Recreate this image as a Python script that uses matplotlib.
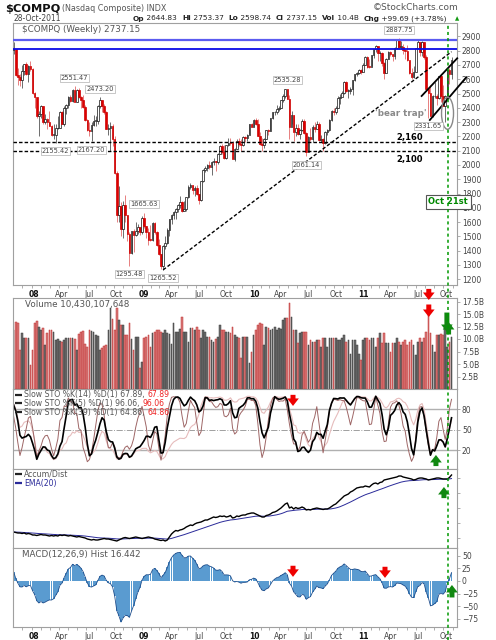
import numpy as np
import pandas as pd
import matplotlib
matplotlib.use("Agg")
import matplotlib.pyplot as plt
import matplotlib.transforms as mtransforms
from matplotlib.lines import Line2D
from matplotlib.patches import Ellipse

plt.rcParams["font.family"] = ["DejaVu Sans"]

start = "2007-11-02"

# Jan-Oct 2007 weeks: only feed the STO / MACD warm-up, they sit left of the chart
pre_close = [2434, 2502, 2451, 2435, 2475, 2459, 2497, 2515, 2368, 2388, 2372, 2448, 2422,
             2471, 2491, 2526, 2557, 2572, 2562, 2558, 2557, 2613, 2573, 2626, 2589, 2603,
             2666, 2707, 2688, 2562, 2511, 2544, 2505, 2576, 2596, 2566, 2602, 2671, 2701,
             2780, 2805, 2725, 2804]
pre_high = [2460, 2510, 2510, 2470, 2480, 2490, 2500, 2530, 2520, 2400, 2400, 2455, 2455,
            2475, 2500, 2530, 2560, 2580, 2580, 2580, 2580, 2620, 2635, 2630, 2640, 2610,
            2670, 2725, 2725, 2700, 2590, 2560, 2560, 2580, 2610, 2620, 2620, 2680, 2710,
            2790, 2830, 2810, 2810]
pre_low = [2410, 2430, 2440, 2420, 2420, 2450, 2450, 2480, 2330, 2340, 2340, 2370, 2410,
           2410, 2450, 2480, 2510, 2550, 2540, 2530, 2520, 2550, 2530, 2560, 2570, 2560,
           2600, 2660, 2680, 2560, 2480, 2470, 2390, 2500, 2540, 2550, 2560, 2600, 2660,
           2690, 2760, 2710, 2720]

# weekly bars, Nov 2 2007 .. Oct 28 2011
close = [2810, 2627, 2618, 2596, 2661, 2709, 2635, 2691, 2674, 2504,
         2474, 2340, 2360, 2414, 2304, 2321, 2303, 2271, 2212, 2212,
         2258, 2261, 2370, 2290, 2402, 2422, 2476, 2445, 2528, 2444,
         2522, 2474, 2454, 2406, 2316, 2245, 2239, 2282, 2310, 2310,
         2414, 2453, 2414, 2368, 2255, 2261, 2273, 2183, 1947, 1649,
         1711, 1552, 1721, 1647, 1516, 1384, 1536, 1509, 1540, 1564,
         1530, 1632, 1571, 1530, 1477, 1476, 1591, 1534, 1441, 1377,
         1293, 1431, 1457, 1545, 1622, 1652, 1673, 1694, 1719, 1739,
         1680, 1692, 1774, 1849, 1858, 1827, 1838, 1796, 1756, 1886,
         1965, 1979, 2000, 1985, 2020, 2028, 2018, 2080, 2132, 2090,
         2048, 2139, 2156, 2154, 2045, 2112, 2167, 2146, 2138, 2194,
         2190, 2212, 2285, 2269, 2317, 2287, 2206, 2147, 2141, 2183,
         2243, 2238, 2327, 2368, 2374, 2395, 2402, 2454, 2481, 2530,
         2461, 2265, 2347, 2229, 2257, 2219, 2243, 2309, 2223, 2091,
         2196, 2179, 2269, 2255, 2289, 2173, 2180, 2154, 2234, 2242,
         2315, 2381, 2370, 2402, 2469, 2479, 2507, 2578, 2518, 2518,
         2535, 2592, 2637, 2642, 2665, 2653, 2703, 2755, 2689, 2686,
         2769, 2809, 2834, 2781, 2784, 2715, 2643, 2743, 2789, 2780,
         2764, 2820, 2873, 2827, 2828, 2803, 2796, 2733, 2643, 2616,
         2652, 2816, 2860, 2789, 2859, 2756, 2532, 2507, 2342, 2480,
         2480, 2467, 2622, 2483, 2415, 2480, 2667, 2637, 2737.15]
high = [2861, 2800, 2680, 2640, 2700, 2710, 2720, 2700, 2725, 2680,
        2510, 2470, 2380, 2420, 2410, 2360, 2330, 2380, 2280, 2290,
        2290, 2340, 2375, 2380, 2410, 2430, 2480, 2490, 2534, 2551.47,
        2530, 2540, 2480, 2490, 2420, 2320, 2300, 2300, 2350, 2340,
        2420, 2473.20, 2455, 2430, 2380, 2290, 2300, 2290, 2200, 1960,
        1850, 1740, 1750, 1790, 1650, 1530, 1540, 1550, 1600, 1590,
        1560, 1640, 1665.63, 1570, 1560, 1580, 1600, 1600, 1540, 1480,
        1380, 1440, 1500, 1560, 1625, 1655, 1680, 1700, 1730, 1780,
        1745, 1750, 1776, 1860, 1875, 1860, 1850, 1860, 1800, 1890,
        1970, 1995, 2010, 2030, 2025, 2050, 2030, 2085, 2140, 2150,
        2140, 2140, 2190, 2190, 2170, 2120, 2180, 2190, 2180, 2200,
        2200, 2215, 2290, 2295, 2320, 2326, 2320, 2230, 2190, 2190,
        2245, 2250, 2330, 2370, 2380, 2420, 2410, 2455, 2500, 2532,
        2535.28, 2490, 2380, 2350, 2290, 2290, 2250, 2320, 2320, 2230,
        2200, 2260, 2280, 2300, 2310, 2300, 2210, 2190, 2240, 2250,
        2320, 2385, 2400, 2410, 2480, 2495, 2520, 2590, 2590, 2530,
        2545, 2595, 2640, 2650, 2670, 2670, 2715, 2760, 2765, 2740,
        2770, 2810, 2840, 2820, 2800, 2790, 2720, 2750, 2800, 2800,
        2780, 2825, 2875, 2887.75, 2865, 2845, 2810, 2840, 2730, 2680,
        2690, 2820, 2880, 2840, 2865, 2860, 2770, 2540, 2560, 2490,
        2580, 2500, 2625, 2630, 2560, 2490, 2670, 2680, 2753.37]
low = [2780, 2620, 2560, 2555, 2540, 2630, 2630, 2580, 2660, 2500,
       2400, 2330, 2200, 2330, 2290, 2290, 2250, 2270, 2200, 2180,
       2155.42, 2250, 2260, 2285, 2270, 2360, 2400, 2440, 2440, 2440,
       2440, 2470, 2400, 2400, 2310, 2240, 2200, 2167.20, 2270, 2270,
       2290, 2400, 2370, 2360, 2250, 2210, 2100, 2130, 1940, 1600,
       1600, 1500, 1490, 1600, 1470, 1295.48, 1380, 1390, 1500, 1520,
       1510, 1520, 1560, 1490, 1440, 1470, 1470, 1520, 1430, 1370,
       1275, 1265.52, 1410, 1450, 1500, 1590, 1620, 1620, 1670, 1700,
       1670, 1680, 1680, 1770, 1830, 1800, 1780, 1790, 1730, 1750,
       1880, 1950, 1960, 1970, 1930, 2000, 1960, 2010, 2080, 2080,
       2040, 2040, 2130, 2140, 2040, 2030, 2110, 2130, 2100, 2130,
       2160, 2170, 2220, 2265, 2270, 2280, 2200, 2140, 2100, 2120,
       2180, 2210, 2240, 2320, 2350, 2360, 2380, 2400, 2440, 2470,
       2460, 2180, 2290, 2170, 2200, 2210, 2180, 2240, 2220, 2061.14,
       2090, 2170, 2160, 2230, 2250, 2170, 2160, 2100, 2150, 2210,
       2240, 2310, 2350, 2360, 2400, 2430, 2480, 2500, 2510, 2470,
       2500, 2490, 2590, 2620, 2640, 2640, 2660, 2700, 2680, 2680,
       2690, 2750, 2790, 2730, 2730, 2690, 2600, 2650, 2740, 2760,
       2730, 2740, 2810, 2810, 2815, 2780, 2740, 2730, 2640, 2600,
       2610, 2660, 2810, 2760, 2760, 2740, 2520, 2331.65, 2340, 2335,
       2470, 2420, 2460, 2440, 2410, 2300, 2480, 2570, 2598.74]
volume = [11.8, 13.5, 13.2, 7.8, 11.2, 10.2, 10.2, 10.3, 4.8, 7.8,
          13.2, 13.6, 12.5, 11.8, 12.2, 8.8, 11.2, 11.8, 11.8, 11.5,
          9.8, 10.0, 9.6, 9.5, 9.8, 10.2, 10.2, 10.3, 10.2, 10.1,
          7.8, 11.0, 11.5, 11.6, 9.0, 8.5, 11.8, 11.6, 11.5, 10.8,
          10.6, 7.8, 8.2, 8.6, 8.8, 11.8, 16.2, 14.0, 11.8, 16.2,
          13.8, 12.8, 12.8, 10.8, 10.8, 13.2, 10.0, 7.8, 10.5, 10.5,
          4.2, 5.5, 10.2, 10.5, 10.8, 8.5, 11.2, 11.5, 11.8, 11.8,
          11.5, 11.2, 11.8, 11.2, 11.0, 9.0, 13.2, 11.5, 11.5, 12.0,
          14.5, 11.5, 11.5, 9.5, 12.2, 12.2, 11.8, 12.5, 11.8, 10.2,
          11.8, 11.5, 10.5, 10.5, 9.8, 9.5, 10.0, 10.5, 12.8, 11.8,
          11.8, 11.5, 11.5, 11.2, 12.5, 10.8, 10.5, 10.2, 6.2, 10.5,
          10.5, 10.5, 5.2, 7.5, 10.8, 11.8, 12.8, 13.2, 13.0, 8.8,
          12.5, 12.2, 11.8, 12.0, 12.5, 11.8, 12.2, 12.0, 13.8, 14.2,
          14.2, 17.2, 14.5, 11.8, 11.8, 9.2, 11.2, 11.5, 11.5, 11.5,
          8.8, 9.8, 9.5, 9.5, 9.8, 9.8, 8.5, 10.2, 10.2, 8.5,
          10.2, 10.2, 10.2, 10.2, 9.8, 9.8, 10.2, 10.8, 9.5, 9.8,
          7.0, 9.8, 9.8, 8.8, 7.0, 5.8, 9.8, 10.2, 10.2, 9.8,
          10.2, 10.2, 8.5, 10.2, 11.2, 9.2, 11.2, 9.2, 9.2, 7.5,
          9.2, 9.2, 10.2, 9.5, 8.8, 9.5, 9.8, 8.8, 9.5, 9.8,
          8.8, 6.8, 9.5, 10.2, 9.5, 10.2, 11.5, 15.2, 11.2, 8.8,
          7.5, 10.8, 10.8, 11.0, 10.8, 12.2, 8.5, 9.5, 10.43]
accum_dist = [16, 15.5, 15, 15, 14.5, 15, 14, 14.5, 14, 13,
              13, 12.5, 13, 13.5, 13, 13, 12.5, 12, 12.5, 12,
              12.5, 12, 13, 12.5, 13, 12.5, 12, 12.5, 12, 11.5,
              11, 11.5, 11, 10.5, 10, 9, 8.5, 8, 8.5, 8,
              8, 8.5, 9, 9.5, 9, 9, 8.5, 8, 7.5, 7,
              8, 9, 10, 10.5, 10, 9.5, 10, 10.5, 11, 10.5,
              10, 9.5, 10, 10.5, 11, 10.5, 10, 9, 8.5, 8,
              7.5, 8, 7, 8, 11, 14, 16, 17.5, 17, 18,
              18.5, 19.5, 21, 22, 23, 22.5, 24, 25, 25.5, 26,
              27, 28, 28, 29, 30, 31, 30.5, 31, 32, 31.5,
              32, 31, 31.5, 32.5, 30, 30.5, 32, 31.5, 32.5, 33,
              33, 34, 34.5, 35, 35, 34, 33, 32, 31, 31,
              32.5, 33, 34, 35.5, 36, 37, 38.5, 40, 42, 44,
              45, 40, 41, 39, 40.5, 39.5, 40, 41, 40, 38,
              38.5, 38, 39, 39.5, 40, 39.5, 39, 38.5, 39, 39,
              40, 41.5, 43, 44, 46, 48, 50, 52, 53, 54,
              56, 57, 58.5, 60, 60.5, 61, 61, 62, 61.5, 61,
              63, 64.5, 65, 64, 65.5, 66, 68, 68.5, 69, 69.5,
              70, 70.5, 71, 72, 72, 71, 70.5, 70, 69.5, 69,
              68, 68.5, 69.5, 70, 70, 69.5, 69, 68, 68.5, 69,
              69.5, 70, 70, 69.5, 69, 69, 69, 70.5, 73]

tagged_highs = [29, 41, 62, 130, 183]
tagged_lows = [20, 37, 55, 71, 139, 197]
support = [2160, 2100]
resistance = [2875, 2815]
legend_sto = [("14", "67.89"), ("5", "96.06"), ("39", "64.86")]

W, H = 496, 640
fig = plt.figure(figsize=(W / 100, H / 100), dpi=100)


def panel(top, bottom):
    return fig.add_axes([13 / W, 1 - bottom / H, 444 / W, (bottom - top) / H])


ax_p = panel(23, 285)
ax_v = panel(298, 389)
ax_s = panel(389, 469)
ax_a = panel(469, 548)
ax_m = panel(548, 627)
axes = [ax_p, ax_v, ax_s, ax_a, ax_m]

grey = "#a0a0a0"
txt = "#444444"
leg = "#555555"
for ax in axes:
    for s in ax.spines.values():
        s.set_color(grey)
        s.set_linewidth(0.8)
    ax.set_xlim(-0.3, 210.6)
    ax.yaxis.tick_right()
    ax.tick_params(axis="y", labelsize=5.5, length=2, pad=1.5, color=grey,
                   labelcolor=txt, width=0.6)
    ax.tick_params(axis="x", which="both", length=0, labelbottom=False)

# month ticks
dates = pd.date_range(start, periods=len(close), freq="7D")
months = pd.date_range("2007-12-01", "2011-11-01", freq="MS")
mpos = np.asarray((months - dates[0]).days) / 7
qmask = np.array([m.month in (1, 4, 7, 10) for m in months])
qlabels = [m.strftime("%y") if m.month == 1 else m.strftime("%b")
           for m in months[qmask]]
shift = mtransforms.ScaledTranslation(2.5 / 100, 0, fig.dpi_scale_trans)
for ax in (ax_p, ax_m):
    ax.set_xticks(mpos[qmask])
    ax.set_xticklabels(qlabels)
    ax.set_xticks(mpos[~qmask], minor=True)
    ax.tick_params(axis="x", which="both", length=2, width=0.6, color=grey,
                   labelbottom=True, labelsize=5.5, pad=1.5, labelcolor=txt)
    for t, lab in zip(ax.get_xticklabels(), qlabels):
        t.set_transform(t.get_transform() + shift)
        if lab.isdigit():
            t.set_fontweight("bold")
            t.set_color("#111111")

# ---- price panel
n_pre = len(pre_close)
c_all = np.array(pre_close + close, dtype=float)
h_all = np.array(pre_high + high, dtype=float)
l_all = np.array(pre_low + low, dtype=float)
c = np.array(close, dtype=float)
hi = np.array(high, dtype=float)
lo = np.array(low, dtype=float)
opens = c_all[n_pre - 1:-1]
x = np.arange(len(c))
up = c >= opens

ax_p.vlines(x, lo, hi, colors=np.where(up, "#555555", "#e36a6a"), lw=0.6, zorder=2)
ax_p.bar(x, np.maximum(np.abs(c - opens), 4), bottom=np.minimum(c, opens), width=0.75,
         color=np.where(up, "white", "#dd0000"), edgecolor=np.where(up, "#111111", "#cc0000"),
         lw=0.5, zorder=3)
ax_p.set_ylim(1160, 2994)
ax_p.set_yticks(np.arange(1200, 2901, 100))

for lvl, col, lw in zip(resistance, ["#5b5bf0", "#0a0ae6"], [1.6, 1.3]):
    ax_p.axhline(lvl, color=col, lw=lw, zorder=4)
for lvl in support:
    ax_p.axhline(lvl, color="black", lw=1.0, ls=(0, (2.5, 1.5)), zorder=4)

ax_p.plot([71, 208], [1266, 2793], color="black", lw=1.0, ls=(0, (2.5, 1.5)), zorder=4)
ax_p.plot([193.8, 210.7], [2483, 2747], color="black", lw=1.3, zorder=5, clip_on=False)
ax_p.plot([197.7, 215], [2315, 2614], color="black", lw=1.3, zorder=5, clip_on=False)
ax_p.add_patch(Ellipse((206.1, 2362), 5.7, 224, fill=False, ec="#888888", lw=1.0, zorder=6))

box = dict(boxstyle="square,pad=0.15", fc="white", ec="#b0b0b0", lw=0.5)
for i in tagged_highs:
    ax_p.annotate(f"{high[i]:.2f}", xy=(i, high[i]), xytext=(0, 4), textcoords="offset points",
                  ha="center", va="bottom", fontsize=4.8, color=txt, bbox=box, zorder=7)
for i in tagged_lows:
    ax_p.annotate(f"{low[i]:.2f}", xy=(i, low[i]), xytext=(0, -4), textcoords="offset points",
                  ha="center", va="top", fontsize=4.8, color=txt, bbox=box, zorder=7,
                  annotation_clip=False)

ax_p.text(184, 2363, "'bear trap'", ha="center", va="center", fontsize=6.3,
          fontweight="bold", color="#8a8a8a", zorder=7)
ax_p.text(188.2, 2189, "2,160", ha="center", va="center", fontsize=6, fontweight="bold", zorder=7)
ax_p.text(188.2, 2035, "2,100", ha="center", va="center", fontsize=6, fontweight="bold", zorder=7)
ax_p.text(206.5, 1741, "Oct 21st", ha="center", va="center", fontsize=6, fontweight="bold",
          color="#008800", zorder=9, clip_on=False,
          bbox=dict(boxstyle="square,pad=0.3", fc="white", ec="#555555", lw=0.8))
ax_p.text(0.02, 0.977, "$COMPQ (Weekly) 2737.15", transform=ax_p.transAxes, fontsize=6.3,
          va="center", ha="left", color=leg)

# ---- volume
ax_v.bar(x, volume, width=0.8, color=np.where(up, "#6e6e6e", "#d97b7b"),
         edgecolor=np.where(up, "#3a3a3a", "#c03030"), lw=0.35)
ax_v.set_ylim(0, 18.2)
vt = np.arange(2.5, 17.6, 2.5)
ax_v.set_yticks(vt)
ax_v.set_yticklabels([f"{v:.1f}B" for v in vt])
ax_v.text(0.027, 0.934, "Volume 10,430,107,648", transform=ax_v.transAxes, fontsize=6.3,
          va="center", color=leg)


def legend_row(ax, y, label, color, textcolor=leg, size=5.6):
    ax.plot([0.005, 0.02], [y, y], transform=ax.transAxes, color=color, lw=1.6,
            solid_capstyle="butt")
    return ax.text(0.025, y, label, transform=ax.transAxes, fontsize=size, va="center",
                   color=textcolor)


# ---- slow stochastics
def slow_sto(n):
    ll = pd.Series(l_all).rolling(n).min()
    hh = pd.Series(h_all).rolling(n).max()
    fast = 100 * (pd.Series(c_all) - ll) / (hh - ll)
    return fast.rolling(3).mean().to_numpy()[n_pre:]


ax_s.axhline(80, color="#b0b0b0", lw=1.0)
ax_s.axhline(20, color="#b0b0b0", lw=1.0)
ax_s.axhline(50, color="#a0a0a0", lw=0.7, ls="-.")
ax_s.plot(x, slow_sto(39), color="#e6bcbc", lw=0.8)
ax_s.plot(x, slow_sto(5), color="#9e6666", lw=0.7)
ax_s.plot(x, slow_sto(14), color="black", lw=1.2)
ax_s.set_ylim(-8, 110)
ax_s.set_yticks([20, 50, 80])
for k, (n, val) in enumerate(legend_sto):
    t = legend_row(ax_s, 0.93 - 0.11 * k, f"Slow STO %K({n}) %D(1) {val}, ", "#222222")
    ax_s.annotate(val, xy=(1, 0), xycoords=t, va="bottom", ha="left", fontsize=5.6,
                  color="#ee2222", annotation_clip=False)

# ---- accumulation / distribution
ad = pd.Series(accum_dist, dtype=float)
ax_a.plot(x, ad.ewm(span=20, adjust=False).mean(), color="#2a2a99", lw=0.7)
ax_a.plot(x, ad, color="black", lw=1.0)
ax_a.set_ylim(0, 79)
ax_a.set_yticks([10, 25, 40, 55, 70])
ax_a.set_yticklabels([])
legend_row(ax_a, 0.935, "Accum/Dist", "#222222")
legend_row(ax_a, 0.82, "EMA(20)", "#2a2a99", textcolor="#2a2a99")

# ---- MACD histogram
cs = pd.Series(c_all)
macd = cs.ewm(span=12, adjust=False).mean() - cs.ewm(span=26, adjust=False).mean()
hist = (macd - macd.ewm(span=9, adjust=False).mean()).to_numpy()[n_pre:]
ax_m.bar(x, hist, width=0.9, color="#5a9bd0", lw=0)
ax_m.plot(x, hist, color="#1f4e8c", lw=0.6)
ax_m.set_ylim(-91, 65)
ax_m.set_yticks([-75, -50, -25, 0, 25, 50])
ax_m.text(0.02, 0.924, "MACD(12,26,9) Hist 16.442", transform=ax_m.transAxes, fontsize=6.3,
          va="center", color=leg)


# ---- block arrows
def block_arrow(ax, xv, yv, down, color, length=8):
    off = length if down else -length
    ax.annotate("", xy=(xv, yv), xytext=(0, off), textcoords="offset points",
                annotation_clip=False, zorder=8,
                arrowprops=dict(arrowstyle="simple,head_length=0.9,head_width=1.4,tail_width=0.6",
                                mutation_scale=6, color=color, lw=0, shrinkA=0, shrinkB=0))


red, green = "#ee0000", "#118811"
block_arrow(ax_v, 197.2, 17.8, True, red)
block_arrow(ax_v, 197.2, 14.4, True, red, 9)
block_arrow(ax_v, 205.8, 11.4, True, green, 14)
block_arrow(ax_v, 206.6, 13.4, False, green, 9)
block_arrow(ax_s, 132.7, 85, True, red)
block_arrow(ax_s, 200.6, 12.7, False, green)
block_arrow(ax_a, 204.4, 61, False, green)
block_arrow(ax_m, 132.7, 8, True, red)
block_arrow(ax_m, 176.4, 6, True, red)
block_arrow(ax_m, 208.2, -8, False, green, 9)

# Oct 21st marker through every panel
trans = mtransforms.blended_transform_factory(ax_p.transData, fig.transFigure)
fig.add_artist(Line2D([206.5, 206.5], [0, 1 - 23 / H], transform=trans, color="#009900",
                      lw=1.1, ls=(0, (2, 2)), zorder=10))

# ---- header
fig.text(5 / W, 1 - 8.5 / H, "$COMPQ", fontsize=8.2, fontweight="bold", va="center", color="#111111")
fig.text(62 / W, 1 - 8.5 / H, "(Nasdaq Composite) INDX", fontsize=5.8, va="center", color="#555555")
fig.text(458 / W, 1 - 8 / H, "©StockCharts.com", fontsize=6.5, va="center", ha="right",
         color="#555555")
fig.text(13 / W, 1 - 18.5 / H, "28-Oct-2011", fontsize=5.5, va="center", color=txt)
pieces = [("Op", True), (" 2644.83  ", False), ("Hi", True), (" 2753.37  ", False),
          ("Lo", True), (" 2598.74  ", False), ("Cl", True), (" 2737.15  ", False),
          ("Vol", True), (" 10.4B  ", False), ("Chg", True), (" +99.69 (+3.78%)", False)]
prev = fig.text(133 / W, 1 - 18.5 / H, pieces[0][0], fontsize=5.3, fontweight="bold",
                va="center", color="#222222")
for s, bold in pieces[1:]:
    prev = ax_p.annotate(s, xy=(1, 0), xycoords=prev, va="bottom", ha="left", fontsize=5.3,
                         fontweight="bold" if bold else "normal", color="#222222",
                         annotation_clip=False)
fig.text(457 / W, 1 - 19 / H, "▲", fontsize=4, va="center", ha="center", color="#119911")

fig.savefig("out.png", dpi=100)
